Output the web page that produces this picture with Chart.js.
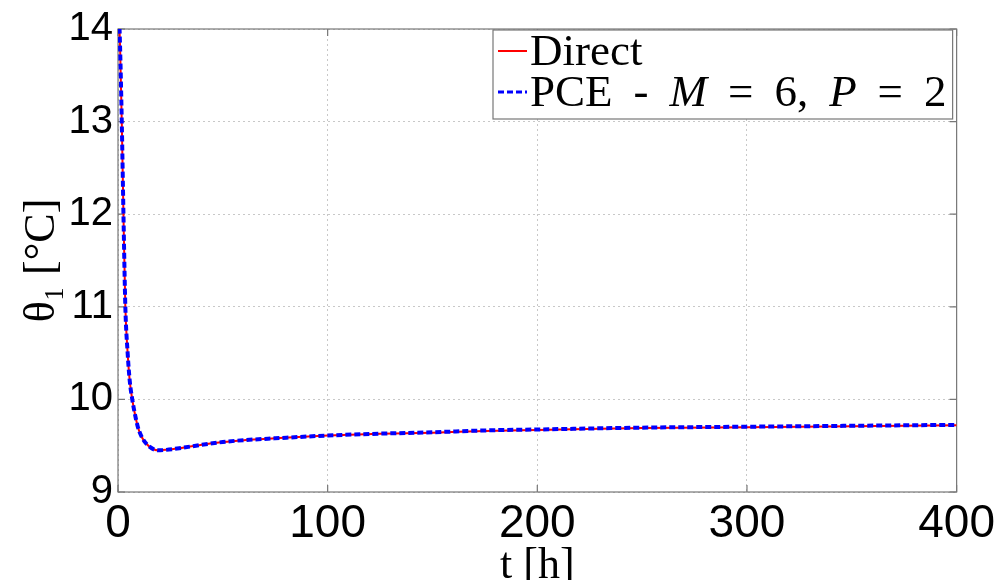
<!DOCTYPE html>
<html>
<head>
<meta charset="utf-8">
<script src="https://cdn.jsdelivr.net/npm/chart.js@4"></script>
<style>
  html, body { margin: 0; padding: 0; background: #fff; }
  #wrap { width: 1000px; height: 580px; }
</style>
</head>
<body>
<div id="wrap"><canvas id="thetaChart" width="1000" height="580"></canvas></div>
<script>
// data
const timeHours = [0, 1, 1.8, 2.6, 3.5, 4.6, 5.6, 6.8, 8, 9.5, 11, 12.5, 15, 19, 23, 30, 40, 50, 60, 75, 100, 125, 150, 175, 200, 250, 300, 350, 400];
const directTheta = [14.5, 13.8, 13.0, 12.0, 11.0, 10.5, 10.2, 10.0, 9.85, 9.7, 9.61, 9.55, 9.49, 9.45, 9.455, 9.475, 9.51, 9.54, 9.56, 9.58, 9.61, 9.63, 9.64, 9.66, 9.67, 9.69, 9.70, 9.71, 9.72];
const pceTheta = [14.5, 13.8, 13.0, 12.0, 11.0, 10.5, 10.2, 10.0, 9.85, 9.7, 9.61, 9.55, 9.49, 9.45, 9.455, 9.475, 9.51, 9.54, 9.56, 9.58, 9.61, 9.63, 9.645, 9.665, 9.675, 9.695, 9.705, 9.715, 9.725];
const xTicks = [0, 100, 200, 300, 400];
const yTicks = [9, 10, 11, 12, 13, 14];
const seriesLabels = ['Direct', 'PCE - M = 6, P = 2'];

const toPoints = (xs, ys) => xs.map((x, i) => ({ x: x, y: ys[i] }));

const serif = '"Liberation Serif", "DejaVu Serif", serif';

// frame with small inward tick marks (matlab style)
const framePlugin = {
    id: 'frame',
    beforeDatasetsDraw(chart) {
        const { ctx, chartArea: a, scales } = chart;
        ctx.save();
        ctx.strokeStyle = '#777';
        ctx.lineWidth = 1.2;
        ctx.strokeRect(a.left, a.top, a.right - a.left, a.bottom - a.top);
        const tl = 7;
        ctx.beginPath();
        xTicks.forEach(v => {
            const px = scales.x.getPixelForValue(v);
            ctx.moveTo(px, a.bottom); ctx.lineTo(px, a.bottom - tl);
            ctx.moveTo(px, a.top); ctx.lineTo(px, a.top + tl);
        });
        yTicks.forEach(v => {
            const py = scales.y.getPixelForValue(v);
            ctx.moveTo(a.left, py); ctx.lineTo(a.left + tl, py);
            ctx.moveTo(a.right, py); ctx.lineTo(a.right - tl, py);
        });
        ctx.stroke();
        ctx.restore();
    }
};

// legend box in the upper right corner
const boxLegendPlugin = {
    id: 'boxLegend',
    afterDatasetsDraw(chart) {
        const { ctx, chartArea: a } = chart;
        const ds = chart.data.datasets;
        const left = 493, top = 30, right = a.right - 4, bottom = 119;
        ctx.save();
        ctx.fillStyle = '#fff';
        ctx.fillRect(left, top, right - left, bottom - top);
        ctx.strokeStyle = '#777';
        ctx.lineWidth = 1.2;
        ctx.strokeRect(left, top, right - left, bottom - top);

        const rowY = [51, 92];
        ds.forEach((d, i) => {
            const y = rowY[i];
            ctx.beginPath();
            ctx.strokeStyle = d.borderColor;
            ctx.lineWidth = d.legendWidth;
            ctx.setLineDash(d.borderDash || []);
            ctx.moveTo(498, y);
            ctx.lineTo(527, y);
            ctx.stroke();
            ctx.setLineDash([]);

            // words spaced like LaTeX math, single capitals in italic
            let x = 530;
            ctx.fillStyle = '#000';
            ctx.textBaseline = 'middle';
            d.label.split(' ').forEach(w => {
                const italic = /^[MP]$/.test(w);
                ctx.font = (italic ? 'italic ' : '') + '45px ' + serif;
                ctx.fillText(w, x, y + 2);
                x += ctx.measureText(w).width + 21;
            });
        });
        ctx.restore();
    }
};

new Chart(document.getElementById('thetaChart'), {
    type: 'line',
    data: {
        datasets: [{
            label: seriesLabels[0],
            data: toPoints(timeHours, directTheta),
            borderColor: '#ff0000',
            borderWidth: 2,
            legendWidth: 2,
            pointRadius: 0,
            cubicInterpolationMode: 'monotone',
            order: 1
        }, {
            label: seriesLabels[1],
            data: toPoints(timeHours, pceTheta),
            borderColor: '#0000ff',
            borderWidth: 4,
            legendWidth: 3,
            borderDash: [6, 3],
            pointRadius: 0,
            cubicInterpolationMode: 'monotone',
            order: 0
        }]
    },
    options: {
        responsive: false,
        animation: false,
        events: [],
        layout: { padding: { top: 25, right: 35, left: 0, bottom: 0 } },
        plugins: {
            legend: { display: false },
            tooltip: { enabled: false }
        },
        scales: {
            x: {
                type: 'linear',
                min: 0,
                max: 400,
                afterBuildTicks: s => { s.ticks = xTicks.map(v => ({ value: v })); },
                afterFit: s => { s.height = 88; },
                grid: { color: '#c8c8c8', lineWidth: 1, drawTicks: false },
                border: { display: false, dash: [2, 3] },
                ticks: {
                    color: '#000',
                    padding: 5,
                    maxRotation: 0,
                    font: { family: '"Liberation Sans", Arial, sans-serif', size: 46 }
                },
                title: {
                    display: true,
                    text: 't [h]',
                    color: '#000',
                    padding: 0,
                    font: { family: serif, size: 44, lineHeight: 0.6 }
                }
            },
            y: {
                min: 9,
                max: 14,
                afterBuildTicks: s => { s.ticks = yTicks.map(v => ({ value: v })); },
                afterFit: s => { s.width = 118; },
                grid: { color: '#c8c8c8', lineWidth: 1, drawTicks: false },
                border: { display: false, dash: [2, 3] },
                ticks: {
                    color: '#000',
                    padding: 5,
                    font: { family: '"Liberation Sans", Arial, sans-serif', size: 40 }
                },
                title: {
                    display: true,
                    text: 'θ₁ [°C]',
                    color: '#000',
                    padding: { top: 16, bottom: 0 },
                    font: { family: serif, size: 44 }
                }
            }
        }
    },
    plugins: [framePlugin, boxLegendPlugin]
});
</script>
</body>
</html>
